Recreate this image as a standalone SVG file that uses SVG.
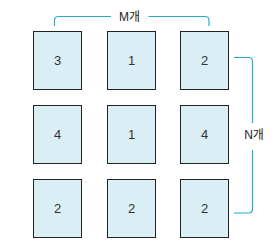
<svg xmlns="http://www.w3.org/2000/svg" width="279" height="250" viewBox="0 0 279 250">
<style>
.box{fill:#d9eff5;stroke:#222;stroke-width:1}
.num{font-family:"Liberation Sans",Arial,sans-serif;font-size:13px;fill:#333;text-anchor:middle}
.lbl{font-family:"Liberation Sans","Noto Sans CJK KR",sans-serif;font-size:12px;fill:#222;text-anchor:middle}
.br{fill:none;stroke:#29a8d2;stroke-width:1.2}
</style>
<rect width="279" height="250" fill="#fff"/>
<g id="connectors">
<path class="br" d="M54.5,26 V20.5 Q54.5,16.5 58.5,16.5 H111 M148.5,16.5 H205 Q209,16.5 209,20.5 V26"/>
<path class="br" d="M234,57.5 H248.5 Q252.5,57.5 252.5,61.5 V123 M252.5,150 V209 Q252.5,213 248.5,213 H234"/>
<text class="lbl" x="129.5" y="20.5">M개</text>
<text class="lbl" x="254" y="138.5">N개</text>
</g>
<g id="n11"><rect class="box" x="33.5" y="31.5" width="48" height="58"/><text class="num" x="57.5" y="65">3</text></g>
<g id="n12"><rect class="box" x="107.5" y="31.5" width="48" height="58"/><text class="num" x="131.5" y="65">1</text></g>
<g id="n13"><rect class="box" x="180.5" y="31.5" width="48" height="58"/><text class="num" x="204.5" y="65">2</text></g>
<g id="n21"><rect class="box" x="33.5" y="105.5" width="48" height="58"/><text class="num" x="57.5" y="139">4</text></g>
<g id="n22"><rect class="box" x="107.5" y="105.5" width="48" height="58"/><text class="num" x="131.5" y="139">1</text></g>
<g id="n23"><rect class="box" x="180.5" y="105.5" width="48" height="58"/><text class="num" x="204.5" y="139">4</text></g>
<g id="n31"><rect class="box" x="33.5" y="179.5" width="48" height="58"/><text class="num" x="57.5" y="213">2</text></g>
<g id="n32"><rect class="box" x="107.5" y="179.5" width="48" height="58"/><text class="num" x="131.5" y="213">2</text></g>
<g id="n33"><rect class="box" x="180.5" y="179.5" width="48" height="58"/><text class="num" x="204.5" y="213">2</text></g>
</svg>
